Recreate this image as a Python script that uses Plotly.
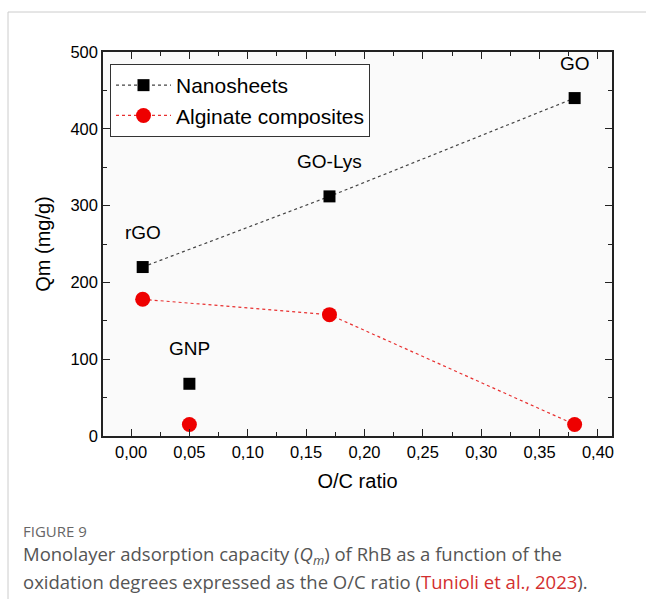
import plotly.graph_objects as go

# Data
names = ["rGO", "GNP", "GO-Lys", "GO"]
oc_ratio = [0.01, 0.05, 0.17, 0.38]
nanosheets = [220, 68, 312, 440]
alginate = [178, 15, 158, 15]
x_ticks = [0.00, 0.05, 0.10, 0.15, 0.20, 0.25, 0.30, 0.35, 0.40]
y_ticks = [0, 100, 200, 300, 400, 500]

# points connected by the dotted lines (GNP stands alone)
line_idx = [0, 2, 3]
solo_idx = [1]

W, H = 646, 599
L, R, T, B = 103, 34, 52, 163
pw, ph = W - L - R, H - T - B

def px_x(p):
    return (p - L) / pw

def px_y(p):
    return (H - B - p) / ph

FONT = "Liberation Sans, Arial, sans-serif"
CAP = "Open Sans, Noto Sans, sans-serif"

fig = go.Figure()
fig.add_trace(go.Scatter(
    x=[oc_ratio[i] for i in line_idx], y=[nanosheets[i] for i in line_idx],
    mode="lines+markers", name="Nanosheets",
    line=dict(color="#444444", width=1.2, dash="dot"),
    marker=dict(symbol="square", size=12, color="black"),
))
fig.add_trace(go.Scatter(
    x=[oc_ratio[i] for i in line_idx], y=[alginate[i] for i in line_idx],
    mode="lines+markers", name="Alginate composites",
    line=dict(color="#e83030", width=1.2, dash="dot"),
    marker=dict(symbol="circle", size=15, color="#ee0000"),
))
fig.add_trace(go.Scatter(
    x=[oc_ratio[i] for i in solo_idx], y=[nanosheets[i] for i in solo_idx],
    mode="markers", showlegend=False,
    marker=dict(symbol="square", size=12, color="black"),
))
fig.add_trace(go.Scatter(
    x=[oc_ratio[i] for i in solo_idx], y=[alginate[i] for i in solo_idx],
    mode="markers", showlegend=False,
    marker=dict(symbol="circle", size=15, color="#ee0000"),
))

annos = []
for n, xv, yv in zip(names, oc_ratio, nanosheets):
    annos.append(dict(x=xv, y=yv, text=n, showarrow=False, yshift=35,
                      font=dict(family=FONT, size=19, color="black")))

annos.append(dict(xref="paper", yref="paper", x=px_x(21), y=px_y(531),
                  xanchor="left", yanchor="middle", showarrow=False,
                  text="FIGURE 9", font=dict(family=CAP, size=15, color="#666666")))
annos.append(dict(xref="paper", yref="paper", x=px_x(21), y=px_y(555),
                  xanchor="left", yanchor="middle", showarrow=False, align="left",
                  text="Monolayer adsorption capacity (<i>Q<sub>m</sub></i>) of RhB as a function of the",
                  font=dict(family=CAP, size=18.5, color="#555555")))
annos.append(dict(xref="paper", yref="paper", x=px_x(21), y=px_y(581),
                  xanchor="left", yanchor="middle", showarrow=False, align="left",
                  text="oxidation degrees expressed as the O/C ratio (<span style='color:#d32f2f'>Tunioli et al., 2023</span>).",
                  font=dict(family=CAP, size=18.5, color="#555555")))

shapes = [
    dict(type="line", xref="paper", yref="paper", x0=px_x(8), x1=px_x(646), y0=px_y(12), y1=px_y(12),
         line=dict(color="#cccccc", width=1)),
    dict(type="line", xref="paper", yref="paper", x0=px_x(8), x1=px_x(8), y0=px_y(12), y1=px_y(599),
         line=dict(color="#cccccc", width=1)),
]

axis_common = dict(
    showline=True, linecolor="#222222", linewidth=1.5, mirror="ticks",
    ticks="inside", ticklen=7, tickwidth=1.2, tickcolor="#222222",
    showgrid=False, zeroline=False,
    tickfont=dict(family=FONT, size=16.5, color="black"),
)

fig.update_layout(
    width=W, height=H,
    margin=dict(l=L, r=R, t=T, b=B),
    paper_bgcolor="white", plot_bgcolor="#fafafa",
    separators=", ",
    showlegend=True,
    legend=dict(x=px_x(110), y=px_y(64), xanchor="left", yanchor="top",
                bgcolor="white", bordercolor="#333333", borderwidth=1,
                font=dict(family=FONT, size=21, color="black"),
                tracegroupgap=0, itemwidth=55),
    xaxis=dict(range=[-0.024, 0.412], tickvals=x_ticks, tickformat=".2f",
               minor=dict(dtick=0.025, tick0=0, ticks="inside", ticklen=4, tickcolor="#222222"),
               title=dict(text="O/C ratio", font=dict(family=FONT, size=20, color="black"), standoff=14),
               **axis_common),
    yaxis=dict(range=[0, 500], tickvals=y_ticks,
               minor=dict(dtick=50, tick0=0, ticks="inside", ticklen=4, tickcolor="#222222"),
               title=dict(text="Qm (mg/g)", font=dict(family=FONT, size=20, color="black"), standoff=14),
               **axis_common),
    annotations=annos,
    shapes=shapes,
)

fig.write_html("out.html", config={"displayModeBar": False},
               post_script="document.body.style.margin='0';document.body.style.overflow='hidden';")
